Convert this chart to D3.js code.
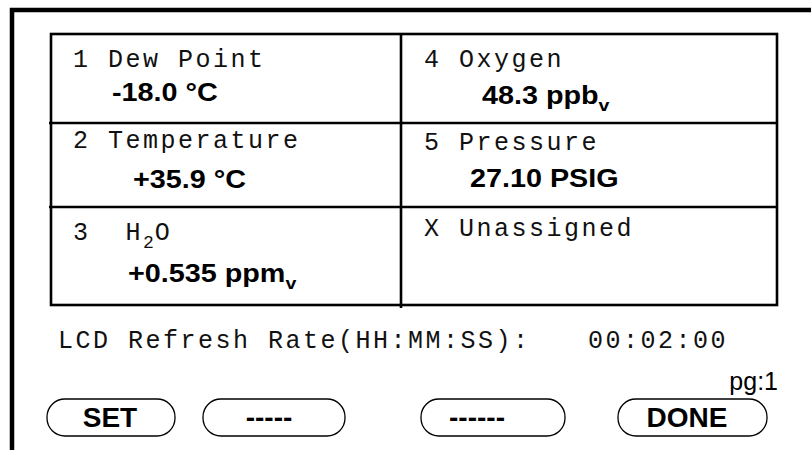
<html>
<head>
<script src="https://d3js.org/d3.v7.min.js"></script>
<style>
  body { margin: 0; background: #fff; }
  .mono { font-family: "Liberation Mono", monospace; font-size: 25px; letter-spacing: 2.5px; fill: #111; white-space: pre; }
  .bold { font-family: "Liberation Sans", Arial, sans-serif; font-weight: bold; font-size: 25px; fill: #000; }
  .btn text { font-size: 28px; }
  .plain { font-family: "Liberation Sans", Arial, sans-serif; font-size: 25px; fill: #000; }
</style>
</head>
<body>
<div id="container"></div>
<script>
// channel data (left column then right column)
const channelIds = ['1', '2', '3', '4', '5', 'X']
const channelNames = [['Dew Point'], ['Temperature'], [' H', '_2', 'O'], ['Oxygen'], ['Pressure'], ['Unassigned']]
const readings = ['-18.0', '+35.9', '+0.535', '48.3', '27.10', '']
const units = ['°C', '°C', 'ppm', 'ppb', 'PSIG', '']
const unitSubs = ['', '', 'v', 'v', '', '']
const refreshLabel = 'LCD Refresh Rate(HH:MM:SS):'
const refreshValue = '00:02:00'
const pageLabel = 'pg:1'
const buttons = ['SET', '-----', '------', 'DONE']

// layout
const W = 811, H = 450
const colEdges = [51, 401, 777]
const rowEdges = [34, 123, 207, 305]
const labelDy = [33, 25, 33, 33, 27, 29]
const valueDx = [61, 82, 77, 81, 69, 0]
const valueDy = [67, 65, 75, 70, 64, 0]
const btnX = [[47, 175], [203, 345], [421, 565], [618, 767]]
const btnText = [110, 269, 477, 687]

const svg = d3.select('#container').append('svg')
  .attr('width', W).attr('height', H)

// outer frame
svg.append('path')
  .attr('d', `M12,${H} V10 H${W}`)
  .attr('fill', 'none').attr('stroke', '#000').attr('stroke-width', 4.5)

const col = d3.scaleOrdinal().domain([0, 1, 2]).range(colEdges)
const row = d3.scaleOrdinal().domain([0, 1, 2, 3]).range(rowEdges)

const grid = svg.append('g').attr('stroke', '#000').attr('stroke-width', 2.6).attr('fill', 'none')
grid.append('rect')
  .attr('x', col(0)).attr('y', row(0))
  .attr('width', col(2) - col(0)).attr('height', row(3) - row(0))
grid.append('line')
  .attr('x1', col(1)).attr('x2', col(1)).attr('y1', row(0)).attr('y2', row(3) + 3)
grid.selectAll('line.r').data([1, 2]).enter().append('line')
  .attr('class', 'r')
  .attr('x1', col(0) - 2).attr('x2', col(2))
  .attr('y1', d => row(d)).attr('y2', d => row(d))

const cells = channelIds.map((id, i) => ({
  id, i, c: Math.floor(i / 3), r: i % 3
}))

const cell = svg.selectAll('g.cell').data(cells).enter().append('g')
  .attr('class', 'cell')
  .attr('transform', d => `translate(${col(d.c)},${row(d.r)})`)

// channel label
cell.append('text')
  .attr('class', 'mono')
  .attr('x', d => d.c === 0 ? 22 : 23)
  .attr('y', d => labelDy[d.i])
  .each(function(d) {
    const t = d3.select(this)
    t.append('tspan').text(d.id + ' ')
    let shift = 0
    channelNames[d.i].forEach(p => {
      if (p.startsWith('_')) {
        t.append('tspan').attr('dy', 8).style('font-size', '18px').style('letter-spacing', '1px').text(p.slice(1))
        shift = 8
      } else {
        t.append('tspan').attr('dy', -shift).text(p)
        shift = 0
      }
    })
  })

// reading
cell.filter(d => readings[d.i] !== '').append('text')
  .attr('class', 'bold')
  .attr('transform', d => `translate(${valueDx[d.i]},${valueDy[d.i]}) scale(1.15,1)`)
  .each(function(d) {
    const t = d3.select(this)
    t.append('tspan').text(readings[d.i] + ' ' + units[d.i])
    if (unitSubs[d.i]) {
      t.append('tspan').attr('dy', 7).style('font-size', '17px').text(unitSubs[d.i])
    }
  })

// refresh rate line
svg.append('text').attr('class', 'mono')
  .attr('x', 58).attr('y', 348)
  .text(refreshLabel)
svg.append('text').attr('class', 'mono')
  .attr('x', 588).attr('y', 348)
  .text(refreshValue)

svg.append('text').attr('class', 'plain')
  .attr('x', 778).attr('y', 390).attr('text-anchor', 'end')
  .text(pageLabel)

// soft buttons
const btn = svg.selectAll('g.btn').data(buttons).enter().append('g').attr('class', 'btn')
btn.append('rect')
  .attr('x', (d, i) => btnX[i][0]).attr('y', 399)
  .attr('width', (d, i) => btnX[i][1] - btnX[i][0]).attr('height', 37)
  .attr('rx', 18).attr('ry', 18)
  .attr('fill', '#fff').attr('stroke', '#000').attr('stroke-width', 1.3)
btn.append('text')
  .attr('class', 'bold')
  .attr('x', (d, i) => btnText[i]).attr('y', 427)
  .attr('text-anchor', 'middle')
  .text(d => d)
</script>
</body>
</html>
